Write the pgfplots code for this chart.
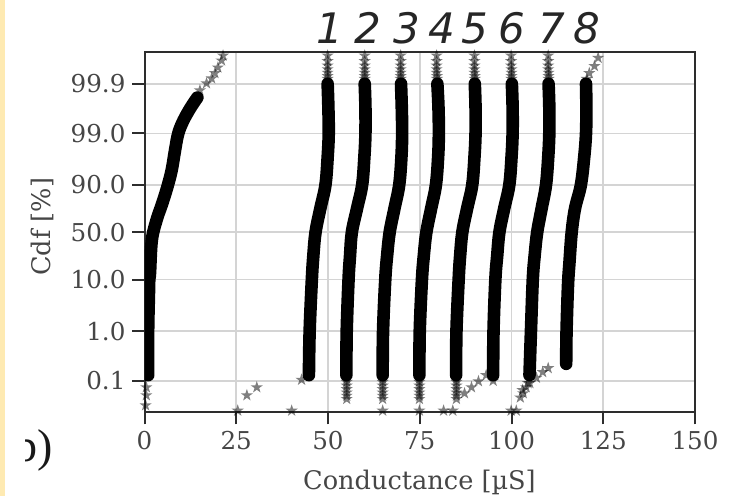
\documentclass[border=0pt]{standalone}
\usepackage{fontspec}
\setmainfont{DejaVu Serif}
\newfontfamily\dvsans{DejaVu Sans}
\newfontfamily\libserif{Liberation Serif}
\usepackage{pgfplots}
\pgfplotsset{compat=1.18}
\definecolor{gridc}{RGB}{212,212,212}
\definecolor{framec}{RGB}{45,45,45}
\definecolor{stripc}{RGB}{254,234,178}
\definecolor{tickc}{RGB}{70,70,70}

\pgfdeclareplotmark{fstar}{%
  \pgfpathmoveto{\pgfpointpolar{90}{\pgfplotmarksize}}%
  \pgfpathlineto{\pgfpointpolar{126}{0.38\pgfplotmarksize}}%
  \pgfpathlineto{\pgfpointpolar{162}{\pgfplotmarksize}}%
  \pgfpathlineto{\pgfpointpolar{198}{0.38\pgfplotmarksize}}%
  \pgfpathlineto{\pgfpointpolar{234}{\pgfplotmarksize}}%
  \pgfpathlineto{\pgfpointpolar{270}{0.38\pgfplotmarksize}}%
  \pgfpathlineto{\pgfpointpolar{306}{\pgfplotmarksize}}%
  \pgfpathlineto{\pgfpointpolar{342}{0.38\pgfplotmarksize}}%
  \pgfpathlineto{\pgfpointpolar{18}{\pgfplotmarksize}}%
  \pgfpathlineto{\pgfpointpolar{54}{0.38\pgfplotmarksize}}%
  \pgfpathclose
  \pgfusepathqfill}

\begin{document}
\begin{tikzpicture}
\begin{axis}[
  name=ax,
  at={(0,0)}, anchor=south west,
  scale only axis, width=275.25pt, height=180pt,
  xmin=0, xmax=150, ymin=0.0231, ymax=99.9769,
  y coord trafo/.code={\pgfmathparse{ln(#1)-ln(100-#1)}},
  xtick={0,25,50,75,100,125,150},
  ytick={0.1,1,10,50,90,99,99.9},
  yticklabels={0.1,1.0,10.0,50.0,90.0,99.0,99.9},
  grid=major, major grid style={gridc, line width=0.8pt},
  axis line style={framec, line width=1pt},
  tick style={framec, line width=1pt},
  tick align=outside, major tick length=6pt,
  xtick pos=left, ytick pos=left,
  tick label style={font=\fontsize{12.3}{14}\selectfont, text=tickc},
  /pgf/number format/assume math mode=true,
  xlabel={Conductance [µS]}, ylabel={Cdf [\%]},
  label style={font=\fontsize{12.8}{15}\selectfont, text=tickc},
  xlabel style={at={(axis description cs:0.4995,-0.195)}, anchor=center},
  ylabel style={at={(axis description cs:-0.185,0.515)}, anchor=center},
  band/.style={black, line width=6.3pt, line cap=round, line join=round, smooth, tension=0.6, no markers},
  tail/.style={only marks, mark=fstar, mark size=3.2pt, mark options={fill=black, fill opacity=0.5, draw=none}},
]
% curve 0
\addplot[band] coordinates {(1.0,0.13) (1.0,1) (1.2,5) (1.3,10) (1.5,13) (2.0,41) (3.3,64) (4.8,79) (6.2,89) (7.4,94.7) (8.3,97.8) (9.2,99.0) (10.6,99.45) (12.6,99.7) (14.4,99.81)};
\addplot[tail] coordinates {(0.5,0.074) (0.5,0.051) (0.3,0.032) (15.1,99.864) (16.9,99.902) (18.3,99.922) (19.2,99.939) (20.0,99.953) (21.0,99.966) (21.4,99.973)};
% curve 1
\addplot[band] coordinates {(44.8,0.13) (45.0,1) (45.6,10) (46.0,25) (46.6,50) (47.9,75) (49.3,90) (49.9,97) (50.2,99) (50.1,99.7) (49.9,99.9)};
\addplot[tail] coordinates {(25.4,0.025) (27.9,0.051) (30.6,0.074) (40.1,0.025) (42.8,0.105) (49.9,99.973) (49.9,99.965) (49.9,99.957) (49.9,99.949) (49.9,99.94) (49.9,99.93) (49.9,99.92)};
% curve 2
\addplot[band] coordinates {(55.0,0.13) (55.1,1) (55.6,10) (56.0,25) (56.5,50) (57.9,75) (59.3,90) (59.9,97) (60.2,99) (60.2,99.7) (60.0,99.9)};
\addplot[tail] coordinates {(55.1,0.11) (55.1,0.095) (55.1,0.08) (55.1,0.068) (55.1,0.058) (55.1,0.05) (55.1,0.043) (60.0,99.973) (60.0,99.965) (60.0,99.957) (60.0,99.949) (60.0,99.94) (60.0,99.93) (60.0,99.92)};
% curve 3
\addplot[band] coordinates {(64.9,0.13) (65.0,1) (65.6,10) (66.1,25) (66.8,50) (68.1,75) (69.4,90) (70.0,97) (70.2,99) (70.1,99.7) (69.9,99.9)};
\addplot[tail] coordinates {(64.9,0.11) (64.9,0.095) (64.9,0.08) (64.9,0.068) (64.9,0.058) (64.9,0.05) (64.9,0.043) (64.9,0.025) (69.8,99.973) (69.8,99.965) (69.8,99.957) (69.8,99.949) (69.8,99.94) (69.8,99.93) (69.8,99.92)};
% curve 4
\addplot[band] coordinates {(74.9,0.13) (75.0,1) (75.6,10) (76.1,25) (76.8,50) (78.1,75) (79.4,90) (80.0,97) (80.2,99) (80.1,99.7) (79.8,99.9)};
\addplot[tail] coordinates {(74.9,0.11) (74.9,0.095) (74.9,0.08) (74.9,0.068) (74.9,0.058) (74.9,0.05) (74.9,0.043) (74.9,0.025) (79.6,99.973) (79.6,99.965) (79.6,99.957) (79.6,99.949) (79.6,99.94) (79.7,99.93) (79.7,99.92)};
% curve 5
\addplot[band] coordinates {(84.9,0.13) (85.0,1) (85.6,10) (86.0,25) (86.6,50) (87.9,75) (89.3,90) (89.9,97) (90.2,99) (90.2,99.7) (90.0,99.9)};
\addplot[tail] coordinates {(85.0,0.11) (85.0,0.095) (85.0,0.08) (85.0,0.068) (85.0,0.058) (85.0,0.05) (85.0,0.043) (81.5,0.025) (84.0,0.025) (89.9,99.973) (89.9,99.965) (89.9,99.957) (89.9,99.949) (89.9,99.94) (90.0,99.93) (90.0,99.92)};
% curve 6
\addplot[band] coordinates {(95.0,0.13) (95.1,1) (95.6,10) (96.1,25) (96.7,50) (98.0,75) (99.4,90) (100.0,97) (100.3,99) (100.3,99.7) (100.1,99.9)};
\addplot[tail] coordinates {(87.2,0.056) (89.1,0.074) (91.0,0.098) (93.1,0.13) (95.0,0.1) (99.9,99.973) (99.9,99.965) (99.9,99.957) (100.0,99.949) (100.0,99.94) (100.0,99.93) (100.0,99.92)};
% curve 7
\addplot[band] coordinates {(104.9,0.13) (105.3,1) (105.8,10) (106.3,25) (107.0,50) (108.2,75) (109.4,90) (110.0,97) (110.3,99) (110.3,99.7) (110.1,99.9)};
\addplot[tail] coordinates {(104.5,0.09) (104.0,0.074) (103.2,0.056) (102.4,0.046) (101.3,0.025) (99.9,0.025) (110.0,99.973) (110.0,99.965) (110.0,99.957) (110.0,99.949) (110.1,99.94) (110.1,99.93) (110.1,99.92)};
% curve 8
\addplot[band] coordinates {(114.9,0.22) (115.0,1) (115.4,8) (115.8,20) (116.4,50) (117.3,75) (118.9,90) (119.8,97) (120.3,99) (120.4,99.7) (120.3,99.9)};
\addplot[tail] coordinates {(103.0,0.065) (105.0,0.09) (106.8,0.115) (108.5,0.15) (110.0,0.18) (120.5,99.92) (121.2,99.939) (122.6,99.956) (123.6,99.97)};
% label anchors
\coordinate (n1) at (rel axis cs:0.3367,1);
\coordinate (n2) at (rel axis cs:0.4053,1);
\coordinate (n3) at (rel axis cs:0.4760,1);
\coordinate (n4) at (rel axis cs:0.5393,1);
\coordinate (n5) at (rel axis cs:0.5993,1);
\coordinate (n6) at (rel axis cs:0.6680,1);
\coordinate (n7) at (rel axis cs:0.7393,1);
\coordinate (n8) at (rel axis cs:0.8040,1);
\end{axis}
\foreach \i in {1,...,8}{
  \node[anchor=base, inner sep=0pt, text=black!85, font=\dvsans\itshape\fontsize{21}{24}\selectfont] at ([yshift=4.5pt]n\i) {\i};
}
\fill[stripc] ([shift={(-72.25pt,-41.85pt)}]ax.south west) rectangle ([shift={(-69.75pt,206.15pt)}]ax.south west);
\begin{scope}
\clip ([shift={(-59.25pt,-41.85pt)}]ax.south west) rectangle ([shift={(-30pt,0pt)}]ax.south west);
\node[anchor=base east, inner sep=0pt, text=black!90, font=\libserif\fontsize{23}{26}\selectfont] at ([shift={(-45.5pt,-24.85pt)}]ax.south west) {b)};
\end{scope}
\pgfresetboundingbox
\path[use as bounding box] ([shift={(-72.25pt,-41.85pt)}]ax.south west) rectangle ([shift={(293.75pt,206.15pt)}]ax.south west);
\end{tikzpicture}
\end{document}
